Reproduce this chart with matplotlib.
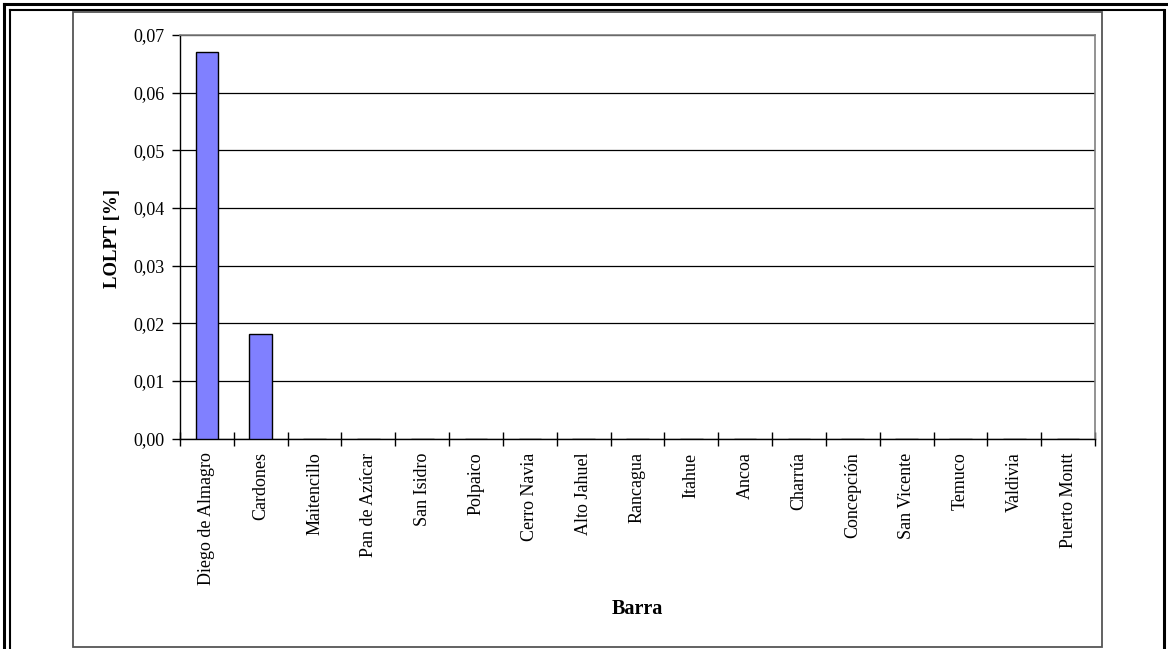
import matplotlib
matplotlib.use("Agg")
import matplotlib.pyplot as plt
from matplotlib.lines import Line2D
from matplotlib.patches import Rectangle
import numpy as np

# Busbars and their loss-of-load probability
barras = ["Diego de Almagro", "Cardones", "Maitencillo", "Pan de Azúcar",
          "San Isidro", "Polpaico", "Cerro Navia", "Alto Jahuel", "Rancagua",
          "Itahue", "Ancoa", "Charrúa", "Concepción", "San Vicente",
          "Temuco", "Valdivia", "Puerto Montt"]
lolpt = [0.0671, 0.0181, 0, 0, 0, 0, 0, 0, 0, 0, 0, 0, 0, 0, 0, 0, 0]
yticks = [0.00, 0.01, 0.02, 0.03, 0.04, 0.05, 0.06, 0.07]

W, H = 1168, 649
plt.rcParams["font.family"] = ["Liberation Serif", "DejaVu Serif"]

fig = plt.figure(figsize=(W / 100, H / 100), dpi=100)

# Frame layer in pixel coordinates
frame = fig.add_axes([0, 0, 1, 1])
frame.set_xlim(0, W)
frame.set_ylim(H, 0)
frame.axis("off")
# double page border
frame.add_line(Line2D([4, 4], [4, H], color="black", lw=2.2))
frame.add_line(Line2D([4, W], [4, 4], color="black", lw=2.2))
frame.add_line(Line2D([9.5, 9.5], [9.5, H], color="black", lw=1.5))
frame.add_line(Line2D([9.5, 1164], [9.5, 9.5], color="black", lw=1.5))
frame.add_line(Line2D([1164, 1164], [9.5, H], color="black", lw=2.2))
# chart area box
frame.add_patch(Rectangle((73, 12), 1102 - 73, 647 - 12, fill=False,
                          edgecolor="#555555", lw=1.3))

# Plot area
left, right, top, bottom = 180, 1095, 35, 438.5
ax = fig.add_axes([left / W, 1 - bottom / H, (right - left) / W, (bottom - top) / H])
ax.set_facecolor("none")

x = np.arange(len(barras))
ax.bar(x, lolpt, width=0.42, color="#8080FF", edgecolor="black", linewidth=1.0, zorder=3)

ax.set_xlim(-0.5, len(barras) - 0.5)
ax.set_ylim(0, 0.07)
ax.set_yticks(yticks)
ax.set_yticklabels([f"{v:.2f}".replace(".", ",") for v in yticks], fontsize=13)
ax.yaxis.grid(True, color="black", lw=0.9, zorder=0)
ax.set_axisbelow(True)

# category labels centred, ticks on category boundaries
ax.set_xticks(x)
ax.set_xticklabels(barras, rotation=90, fontsize=13)
ax.tick_params(axis="x", which="major", length=0, pad=10)
ax.set_xticks(np.arange(-0.5, len(barras)), minor=True)
ax.tick_params(axis="x", which="minor", length=10, direction="inout", width=1, color="black")
ax.tick_params(axis="y", length=6, width=1, direction="out", pad=5)

for s in ("left", "bottom"):
    ax.spines[s].set_color("black")
    ax.spines[s].set_linewidth(1.0)
for s in ("top", "right"):
    ax.spines[s].set_color("#808080")
    ax.spines[s].set_linewidth(1.2)

fig.text(113 / W, 1 - 239 / H, "LOLPT [%]", rotation=90, ha="center", va="center",
         fontsize=13.5, fontweight="bold")
fig.text(637 / W, 1 - 609 / H, "Barra", ha="center", va="center",
         fontsize=14.5, fontweight="bold")

fig.savefig("out.png", dpi=100)
